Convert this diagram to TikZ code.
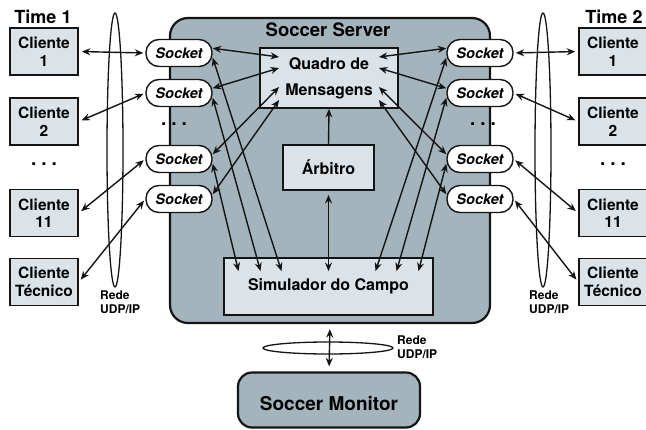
\documentclass[tikz,border=0pt]{standalone}
\usepackage{fontspec}
\setmainfont{TeX Gyre Heros}
\usetikzlibrary{arrows.meta, positioning, calc}
\definecolor{servercolor}{RGB}{163, 180, 188}
\definecolor{boxcolor}{RGB}{219, 227, 233}
\definecolor{linecolor}{RGB}{20, 20, 20}

\begin{document}
\begin{tikzpicture}[x=1pt, y=-1pt,
    clientbox/.style={draw=linecolor, line width=1.6pt, fill=boxcolor, minimum width=68pt, minimum height=47pt, inner sep=0pt, align=center, font=\fontsize{15.5}{17.5}\selectfont\bfseries},
    socketbox/.style={draw=linecolor, line width=1.4pt, fill=white, rounded corners=13pt, minimum width=66pt, minimum height=27pt, inner sep=0pt, font=\fontsize{14.5}{16}\selectfont\bfseries\itshape},
    innerbox/.style={draw=linecolor, line width=1.8pt, fill=boxcolor, inner sep=0pt, align=center, font=\fontsize{16}{26}\selectfont\bfseries},
    netlabel/.style={anchor=north west, inner sep=0pt, align=left, font=\fontsize{12}{13.5}\selectfont\bfseries},
    teamlabel/.style={inner sep=0pt, font=\fontsize{18}{20}\selectfont\bfseries},
    dots/.style={inner sep=0pt, font=\fontsize{19}{19}\selectfont\bfseries},
    link/.style={{Stealth[length=8.5pt, width=7pt]}-{Stealth[length=8.5pt, width=7pt]}, line width=1.4pt, draw=linecolor},
    netlink/.style={link, shorten <=3pt, shorten >=2pt}]
    \useasboundingbox (0,0) rectangle (646,429);

    % Soccer Server
    \node[draw=linecolor, line width=2.2pt, fill=servercolor, rounded corners=18pt, minimum width=320pt, minimum height=305pt] (server) at (330,170.5) {};
    \node[inner sep=0pt, font=\fontsize{18.5}{20}\selectfont\bfseries] (servertitle) at (328,30) {Soccer Server};
    \node[innerbox, minimum width=138pt, minimum height=60pt] (quadro) at (329,78) {Quadro de\\Mensagens};
    \node[innerbox, minimum width=91pt, minimum height=45pt] (arbitro) at (328.5,167.5) {Árbitro};
    \node[innerbox, minimum width=209pt, minimum height=57pt] (sim) at (328.5,286.5) {Simulador do Campo};

    % Soccer Monitor
    \node[draw=linecolor, line width=2.2pt, fill=servercolor, rounded corners=14pt, minimum width=182pt, minimum height=55pt] (monitor) at (329,400) {};
    \node[inner sep=0pt, font=\fontsize{19}{20}\selectfont\bfseries] (monitortext) at (329,404) {Soccer Monitor};

    % Time 1
    \node[teamlabel] (time1) at (43,17) {Time 1};
    \node[clientbox] (cl1) at (44,51.5) {Cliente\\1};
    \node[clientbox] (cl2) at (44,121.5) {Cliente\\2};
    \node[dots] (dotsL) at (44,164) {.\hspace{5pt}.\hspace{5pt}.};
    \node[clientbox] (cl11) at (44,213) {Cliente\\11};
    \node[clientbox] (cltec) at (44,282) {Cliente\\Técnico};

    % Time 2
    \node[teamlabel] (time2) at (614,17) {Time 2};
    \node[clientbox] (cr1) at (613,51.5) {Cliente\\1};
    \node[clientbox] (cr2) at (613,121.5) {Cliente\\2};
    \node[dots] (dotsR) at (613,164) {.\hspace{5pt}.\hspace{5pt}.};
    \node[clientbox] (cr11) at (613,213) {Cliente\\11};
    \node[clientbox] (crtec) at (613,282) {Cliente\\Técnico};

    % Sockets
    \node[socketbox] (sL1) at (179,53) {Socket};
    \node[socketbox] (sL2) at (179,93) {Socket};
    \node[dots] (sdotsL) at (174,124) {.\hspace{5pt}.\hspace{5pt}.};
    \node[socketbox] (sL3) at (179,159) {Socket};
    \node[socketbox] (sL4) at (179,199) {Socket};
    \node[socketbox] (sR1) at (480,53) {Socket};
    \node[socketbox] (sR2) at (480,93) {Socket};
    \node[dots] (sdotsR) at (483,124) {.\hspace{5pt}.\hspace{5pt}.};
    \node[socketbox] (sR3) at (480,159) {Socket};
    \node[socketbox] (sR4) at (480,199) {Socket};

    % Redes UDP/IP
    \draw[linecolor, line width=1.3pt] (115,150) ellipse [x radius=8pt, y radius=137pt];
    \draw[linecolor, line width=1.3pt] (543,150) ellipse [x radius=8pt, y radius=137pt];
    \draw[linecolor, line width=1.3pt] (328,348) ellipse [x radius=65pt, y radius=6pt];
    \node[netlabel] (redeL) at (100,291) {Rede\\UDP/IP};
    \node[netlabel] (redeR) at (529,291) {Rede\\UDP/IP};
    \node[netlabel] (redeM) at (397,336) {Rede\\UDP/IP};

    % Clientes e sockets
    \draw[netlink] (cl1.east) -- (sL1.west);
    \draw[netlink] (cl2.east) -- (sL2.west);
    \draw[netlink] (cl11.east) -- (sL3.west);
    \draw[netlink] (cltec.east) -- (sL4.west);
    \draw[netlink] (cr1.west) -- (sR1.east);
    \draw[netlink] (cr2.west) -- (sR2.east);
    \draw[netlink] (cr11.west) -- (sR3.east);
    \draw[netlink] (crtec.west) -- (sR4.east);

    % Sockets e quadro de mensagens
    \foreach \i/\dy in {1/-21, 2/-10, 3/9, 4/22} {
        \draw[link] (sL\i.8) -- ($(quadro.west)+(20,\dy)$);
        \draw[link] (sR\i.172) -- ($(quadro.east)+(-20,\dy)$);
    }

    % Sockets e simulador
    \foreach \i/\dx in {1/47, 2/68, 3/90} {
        \draw[link] (sL\i.-8) -- ($(sim.north)+(-\dx,14)$);
        \draw[link] (sR\i.-172) -- ($(sim.north)+(\dx,14)$);
    }

    % Arbitro
    \draw[-{Stealth[length=8.5pt, width=7pt]}, line width=1.4pt, linecolor] (arbitro.north) -- (quadro.south);
    \draw[link, shorten <=4pt] (arbitro.south) -- ($(sim.north)+(0,14)$);

    % Monitor
    \draw[link, shorten <=5pt, shorten >=5pt] (server.south) -- (monitor.north);
\end{tikzpicture}
\end{document}
